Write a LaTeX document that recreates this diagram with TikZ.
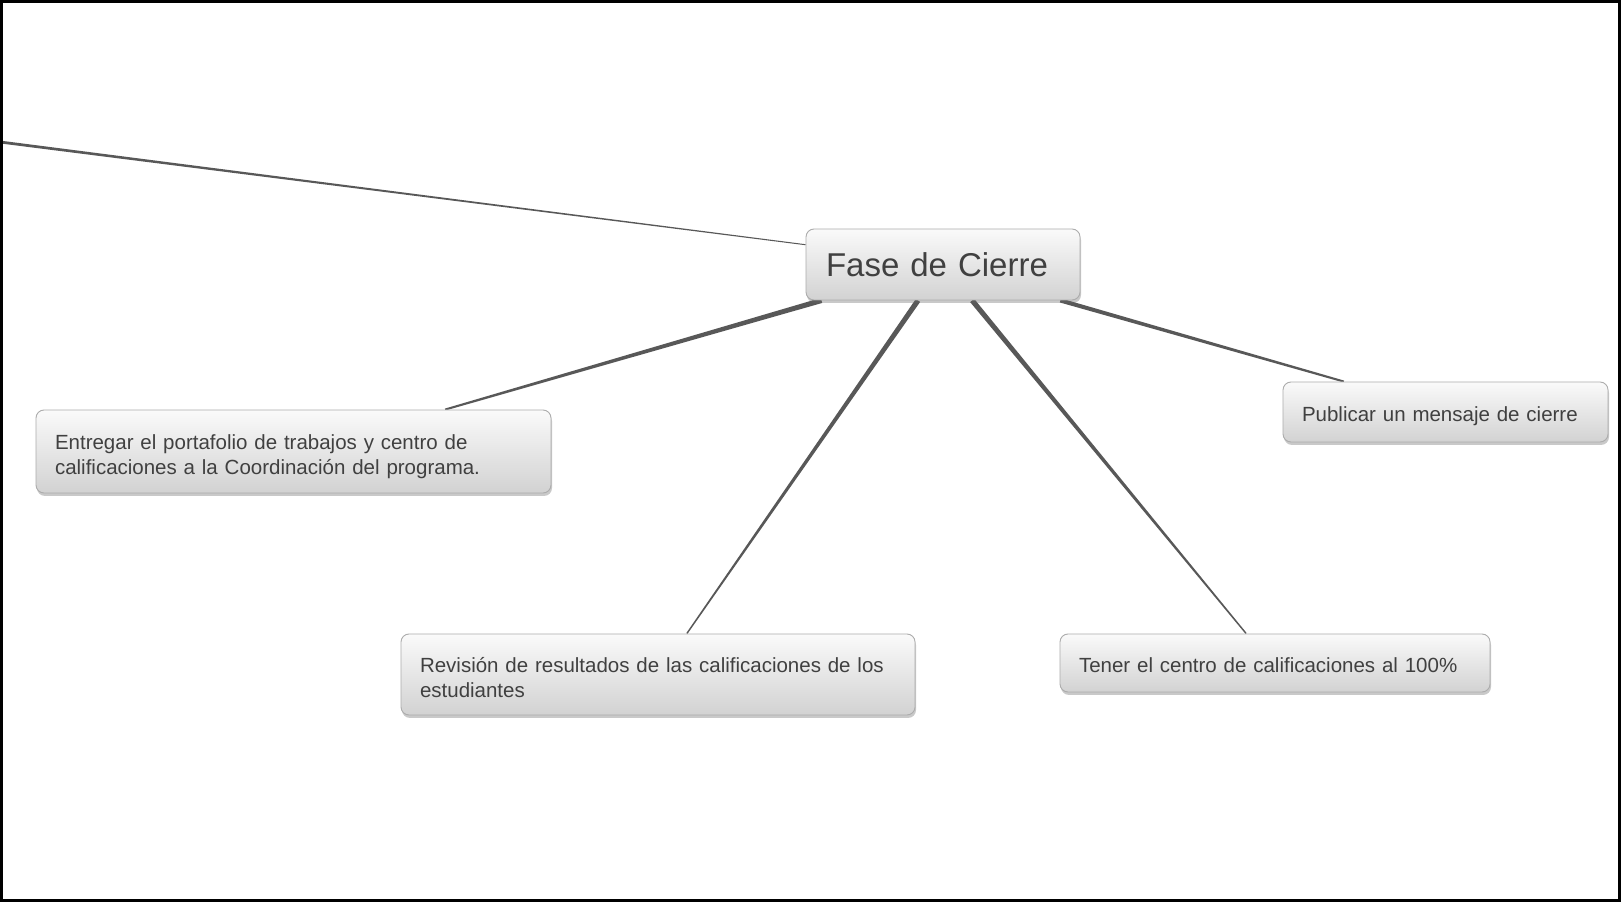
\documentclass[tikz,border=0pt]{standalone}
\usepackage{fontspec}
\setmainfont{Liberation Sans}
\usetikzlibrary{calc,shadows}
\pgfdeclarelayer{bg}
\pgfsetlayers{bg,main}
\definecolor{conncol}{RGB}{88,88,88}
\definecolor{boxline}{RGB}{172,172,172}
\definecolor{boxtop}{RGB}{250,250,250}
\definecolor{boxbot}{RGB}{210,210,210}
\definecolor{txt}{RGB}{64,64,64}
\newcommand\tconn[4]{%
  \fill[conn] ($(#1)!#3!90:(#2)$) -- ($(#2)!#4!-90:(#1)$) -- ($(#2)!#4!90:(#1)$) -- ($(#1)!#3!-90:(#2)$) -- cycle;}
\tikzset{
  conn/.style={fill=conncol},
  mapbox/.style={draw=boxline, line width=0.9pt, rounded corners=8pt,
    top color=boxtop, bottom color=boxbot, text=txt,
    drop shadow={shadow xshift=1pt, shadow yshift=-3pt, opacity=0.35, fill=black!60},
    inner xsep=19pt, inner ysep=4pt, align=left,
    font=\fontsize{20.5}{24.8}\selectfont},
  oneline/.style={text height=20pt, text depth=0pt},
  twoline/.style={text height=20pt, text depth=23pt},
  mainbox/.style={mapbox, inner xsep=20pt, text height=24pt, text depth=0pt,
    font=\fontsize{33}{40}\selectfont}
}
\begin{document}
\begin{tikzpicture}[x=1pt,y=1pt]
\useasboundingbox (0,0) rectangle (1621,902);

\node[mainbox, text width=234pt, minimum width=274pt, minimum height=71pt] (fase) at (943,637.5) {Fase de Cierre};
\node[mapbox, twoline, text width=477pt, minimum height=83pt] (entregar) at (293.5,450.5)
   {Entregar el portafolio de trabajos y centro de\\calificaciones a la Coordinación del programa.};
\node[mapbox, twoline, text width=476pt, minimum height=81pt] (revision) at (658,227.5)
   {Revisión de resultados de las calificaciones de los\\estudiantes};
\node[mapbox, oneline, text width=392pt, minimum height=58pt] (tener) at (1275,239)
   {Tener el centro de calificaciones al 100\%};
\node[mapbox, oneline, text width=287pt, minimum height=60pt] (publicar) at (1445.5,490)
   {Publicar un mensaje de cierre};

% connector anchor points
\coordinate (lft) at (0,760);
\coordinate (fw) at ($(fase.north west)!0.225!(fase.south west)$);
\coordinate (f1) at ($(fase.south west)!0.058!(fase.south east)$);
\coordinate (f2) at ($(fase.south west)!0.409!(fase.south east)$);
\coordinate (f3) at ($(fase.south west)!0.606!(fase.south east)$);
\coordinate (f4) at ($(fase.south west)!0.927!(fase.south east)$);
\coordinate (e1) at ($(entregar.north west)!0.794!(entregar.north east)$);
\coordinate (r1) at ($(revision.north west)!0.556!(revision.north east)$);
\coordinate (t1) at ($(tener.north west)!0.433!(tener.north east)$);
\coordinate (p1) at ($(publicar.north west)!0.188!(publicar.north east)$);

\begin{pgfonlayer}{bg}
\fill[white] (0,0) rectangle (1621,902);
\tconn{lft}{fw}{1.4pt}{0.5pt}
\tconn{f1}{e1}{2.6pt}{1pt}
\tconn{f2}{r1}{2.6pt}{0.7pt}
\tconn{f3}{t1}{2.6pt}{0.7pt}
\tconn{f4}{p1}{2.1pt}{1pt}
\end{pgfonlayer}

% outer frame
\draw[black, line width=2.6pt] (1.6,1.6) rectangle (1619.4,900.4);
\end{tikzpicture}
\end{document}
